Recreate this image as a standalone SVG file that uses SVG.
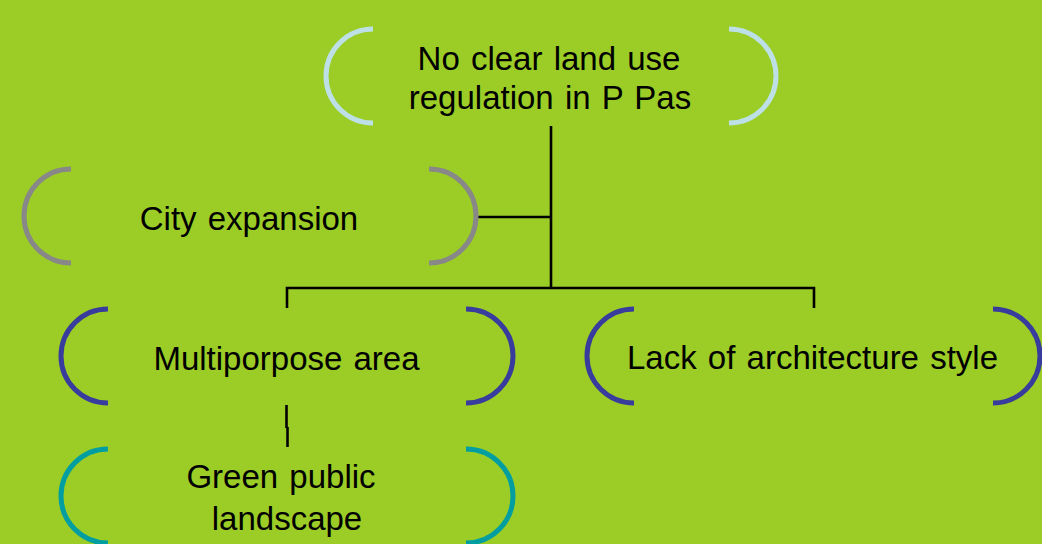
<svg xmlns="http://www.w3.org/2000/svg" width="1042" height="544" viewBox="0 0 1042 544">
<style>
.br{fill:none;stroke-width:5}
.t{font-family:"Liberation Sans",Arial,sans-serif;font-size:33px;word-spacing:2px;fill:#000;text-anchor:middle}
.c{fill:none;stroke:#000;stroke-width:2.6}
</style>
<rect width="1042" height="544" fill="#9BCD26"/>
<g id="connectors">
<path class="c" d="M551,126 V288"/>
<path class="c" d="M477,217 H551"/>
<path class="c" d="M287,308 V288 H814 V308"/>
<path class="c" d="M286.5,405 V428"/>
<path class="c" d="M287.5,427 V447"/>
</g>
<g id="node-top">
<path class="br" stroke="#BDE0E6" d="M373,29 A47,47 0 0 0 373,123"/>
<path class="br" stroke="#BDE0E6" d="M729,29 A47,47 0 0 1 729,123"/>
<text class="t" x="549" y="70">No clear land use</text>
<text class="t" x="550" y="109">regulation in P Pas</text>
</g>
<g id="node-city">
<path class="br" stroke="#888888" d="M71,169 A47,47 0 0 0 71,263"/>
<path class="br" stroke="#888888" d="M429,169 A47,47 0 0 1 429,263"/>
<text class="t" x="249" y="230">City expansion</text>
</g>
<g id="node-multi">
<path class="br" stroke="#383C9C" d="M108,309 A47,47 0 0 0 108,403"/>
<path class="br" stroke="#383C9C" d="M466,309 A47,47 0 0 1 466,403"/>
<text class="t" x="286.5" y="370">Multiporpose area</text>
</g>
<g id="node-lack">
<path class="br" stroke="#383C9C" d="M634,309 A47,47 0 0 0 634,403"/>
<path class="br" stroke="#383C9C" d="M993,309 A47,47 0 0 1 993,403"/>
<text class="t" x="812.5" y="369">Lack of architecture style</text>
</g>
<g id="node-green">
<path class="br" stroke="#009EA0" d="M108,449 A47,47 0 0 0 108,543"/>
<path class="br" stroke="#009EA0" d="M466,449 A47,47 0 0 1 466,543"/>
<text class="t" x="281" y="488">Green public</text>
<text class="t" x="287" y="530">landscape</text>
</g>
</svg>
